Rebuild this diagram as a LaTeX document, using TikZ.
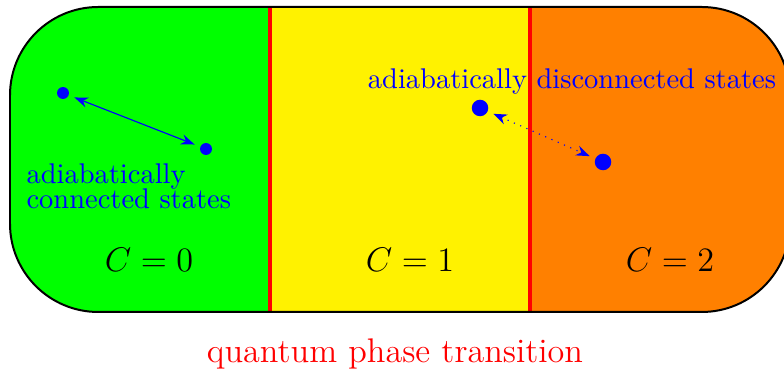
\documentclass[tikz,border=0pt]{standalone}
\usetikzlibrary{arrows.meta}
\begin{document}
\begin{tikzpicture}[x=0.351pt,y=0.351pt,
  dot/.style={circle, fill=blue, inner sep=0pt, minimum size=4.2pt},
  bigdot/.style={circle, fill=blue, inner sep=0pt, minimum size=5.8pt},
  lbl/.style={text=blue, inner sep=0pt},
  phase/.style={font=\large, inner sep=0pt, anchor=base}]
\useasboundingbox (0,0) rectangle (784,372);
% the three phases
\begin{scope}
\clip[rounded corners=31pt] (10,60) rectangle (790,365);
\fill[green] (0,0) rectangle (270,372);
\fill[yellow] (270,0) rectangle (530,372);
\fill[orange] (530,0) rectangle (800,372);
\end{scope}
\draw[red, line width=1.2pt] (270,60) -- (270,365);
\draw[red, line width=1.2pt] (530,60) -- (530,365);
\draw[line width=0.7pt, rounded corners=31pt] (10,60) rectangle (790,365);
% states
\node[dot] (s1) at (63,279) {};
\node[dot] (s2) at (206,223) {};
\node[bigdot] (s3) at (480,264) {};
\node[bigdot] (s4) at (603,210) {};
\draw[blue, {Stealth}-{Stealth}, shorten <=2pt, shorten >=2pt] (s1) -- (s2);
\draw[blue, dotted, {Stealth}-{Stealth}, shorten <=2pt, shorten >=2pt] (s3) -- (s4);
\node[lbl, align=left, anchor=base west] (conn) at (26,163) {adiabatically\\[-3.2pt]connected states};
\node[lbl, anchor=base] (disc) at (572,283) {adiabatically disconnected states};
% labels
\node[phase] (c0) at (149,100) {$C=0$};
\node[phase] (c1) at (410,100) {$C=1$};
\node[phase] (c2) at (670,100) {$C=2$};
\node[phase, text=red] (qpt) at (395,9) {quantum phase transition};
\end{tikzpicture}
\end{document}
